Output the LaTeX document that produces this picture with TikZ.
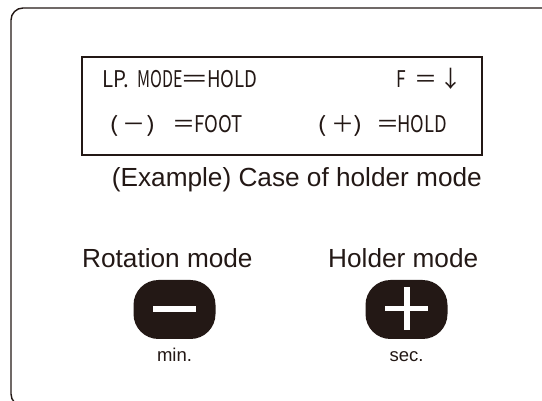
\documentclass[tikz,border=0pt]{standalone}
\usepackage{fontspec}
\usepackage{graphicx}
\setmainfont{Liberation Sans}
\newfontfamily\cjk{Noto Sans CJK JP}
\newfontfamily\cond[FakeStretch=0.8]{Noto Sans CJK JP}
\definecolor{ink}{HTML}{231815}
\newcommand{\lcdword}[2]{\resizebox{#1pt}{\height}{\cond\fontsize{23}{24}\selectfont #2}}
\begin{document}
\begin{tikzpicture}[x=1pt,y=-1pt,
  lcdw/.style={inner sep=0pt, anchor=base west, text=ink},
  lcdc/.style={inner sep=0pt, anchor=base, text=ink, font=\cjk\fontsize{23}{24}\selectfont},
  lcdp/.style={inner sep=0pt, anchor=base, text=ink, font=\cjk\fontsize{21}{22}\selectfont},
  label/.style={inner sep=0pt, anchor=base west, text=ink, font=\fontsize{26.2}{28}\selectfont},
  small/.style={inner sep=0pt, anchor=base, text=ink, font=\fontsize{18.5}{20}\selectfont},
  button/.style={fill=ink, rounded corners=25pt, minimum width=82pt, minimum height=59pt, inner sep=0pt}]
\useasboundingbox (0,0) rectangle (542,401);
\clip (0,0) rectangle (542,401);
% outer frame
\draw[ink, line width=1.4pt, rounded corners=12pt] (11,8) rectangle (700,406);
% display box
\node[draw=ink, line width=2.6pt, minimum width=400pt, minimum height=98pt, inner sep=0pt] (lcd) at (282,106) {};
% line 1
\node[lcdw] (lp) at (101.9,87.7) {\lcdword{27.2}{LP.}};
\node[lcdw] (mode) at (137.2,87.7) {\lcdword{45.3}{MODE}};
\node[lcdw] (eqa) at (180.5,87.7) {\resizebox{28.5pt}{\height}{\cjk\fontsize{23}{24}\selectfont ＝}};
\node[lcdw] (holda) at (207.2,87.7) {\lcdword{50.3}{HOLD}};
\node[lcdw] (f) at (396.2,88) {\lcdword{9.6}{F}};
\node[lcdc] (eqb) at (426,88) {＝};
\node[lcdc] (arr) at (451,88) {↓};
% line 2 left
\node[lcdp] (pa) at (114,132.3) {\scalebox{1.35}[1]{(}};
\node[lcdc] (mi) at (134,132.3) {－};
\node[lcdp] (pb) at (151,132.3) {\scalebox{1.35}[1]{)}};
\node[lcdc] (eqc) at (184,132.3) {＝};
\node[lcdw] (foot) at (194.2,132.3) {\lcdword{48.3}{FOOT}};
% line 2 right
\node[lcdp] (pc) at (322.5,132.3) {\scalebox{1.35}[1]{(}};
\node[lcdc] (pl) at (342.5,132.3) {＋};
\node[lcdp] (pd) at (358.5,132.3) {\scalebox{1.35}[1]{)}};
\node[lcdc] (eqd) at (387.5,132.3) {＝};
\node[lcdw] (holdb) at (397.2,132.3) {\lcdword{49.6}{HOLD}};
% captions
\node[label] (ex) at (111.7,186.7) {(Example) Case of holder mode};
\node[label] (rot) at (82,268) {Rotation mode};
\node[label] (hold) at (328,268) {Holder mode};
% buttons
\node[button] (minus) at (174.5,309.5) {};
\node[button] (plus) at (406.5,309.5) {};
\fill[white] (153,306) rectangle (196,312);
\fill[white] (385,305.8) rectangle (428,311.3);
\fill[white] (404,287) rectangle (409.5,330);
\node[small] (min) at (174.5,361.5) {min.};
\node[small] (sec) at (406.5,361.5) {sec.};
\end{tikzpicture}
\end{document}
